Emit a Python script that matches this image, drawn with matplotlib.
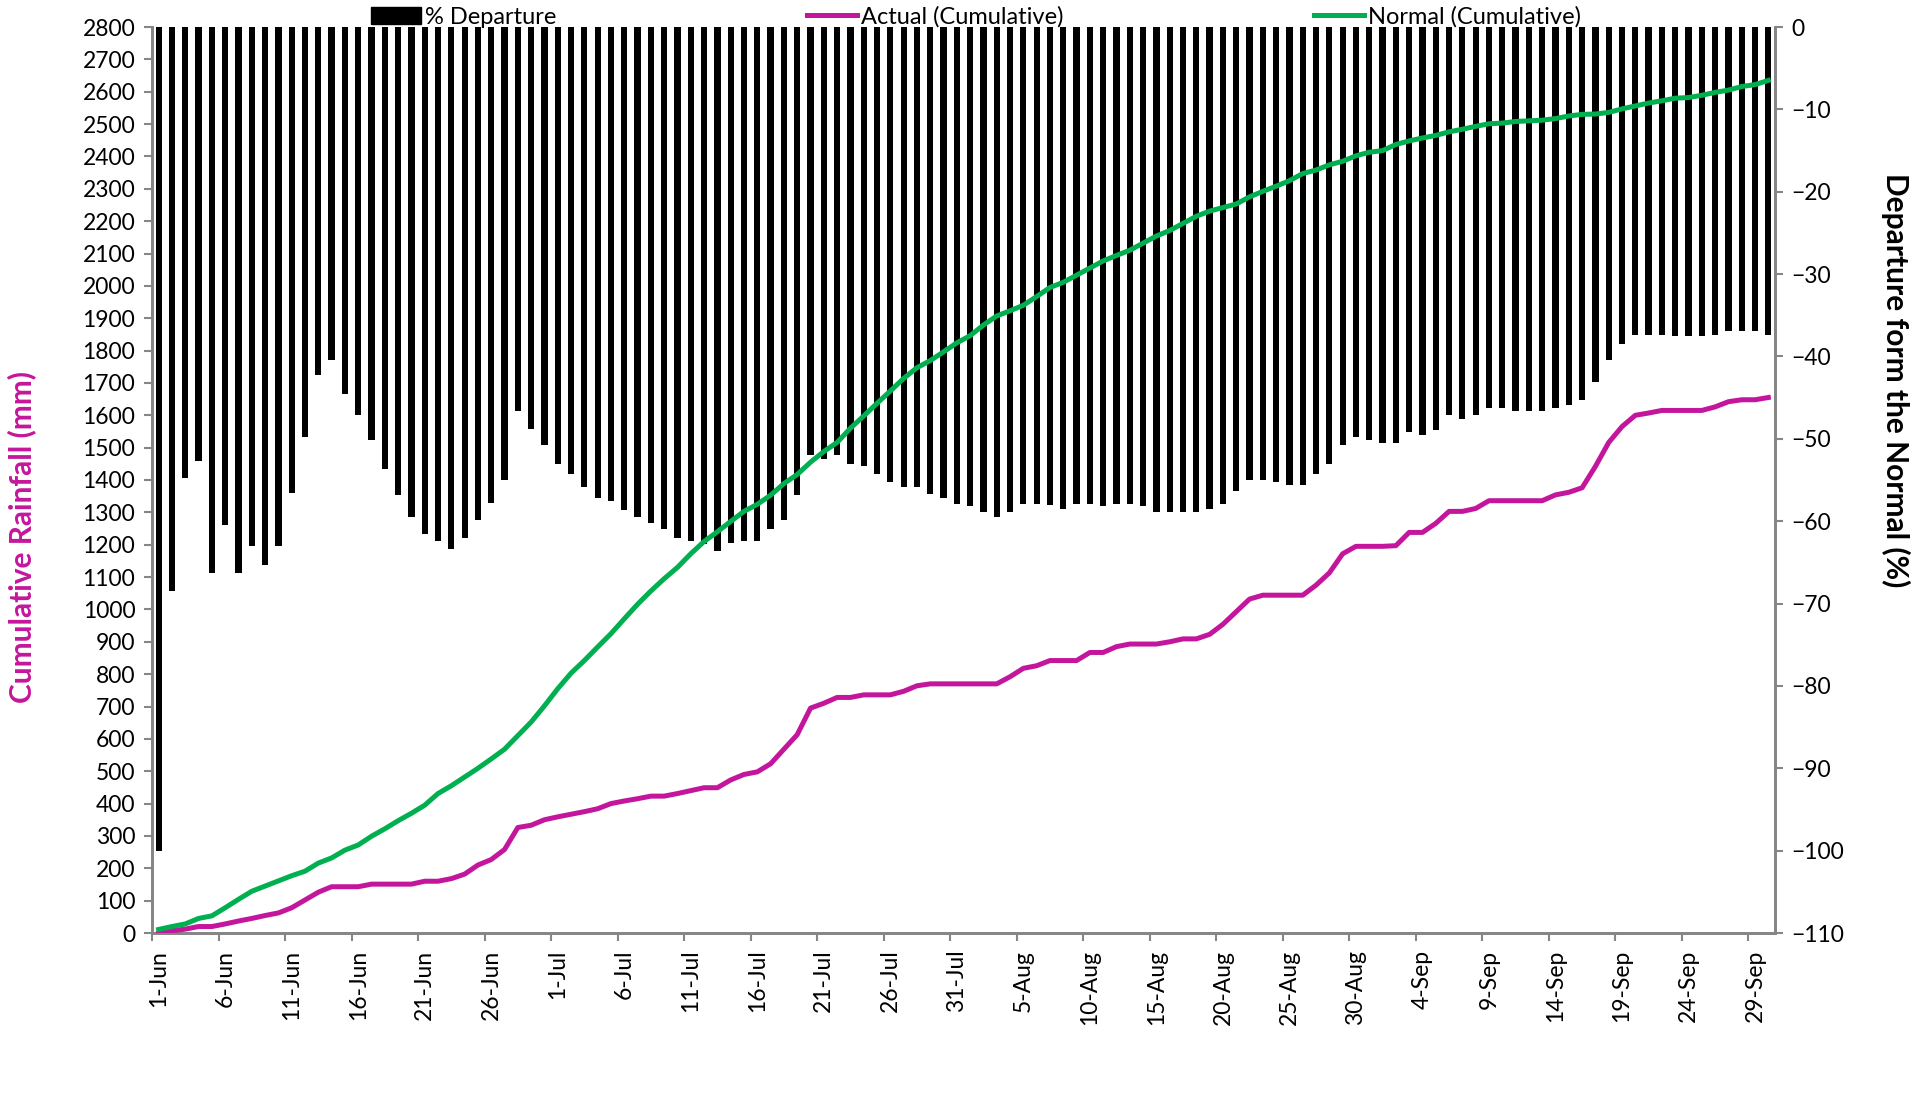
import matplotlib
matplotlib.use("Agg")
import matplotlib.pyplot as plt
import pandas as pd
import numpy as np
from matplotlib.lines import Line2D
from matplotlib.patches import Patch

plt.rcParams['font.family'] = ['Lato', 'DejaVu Sans']

dates = pd.date_range('2023-06-01', '2023-09-30', freq='D')
date_labels = [f"{d.day}-{d.strftime('%b')}" for d in dates]

departure = [
    -100, -68.5, -54.7, -52.7, -66.3, -60.5, -66.3, -63.0, -65.3, -63.0,
    -56.6, -49.8, -42.3, -40.4, -44.6, -47.1, -50.1, -53.7, -56.8, -59.5,
    -61.5, -62.4, -63.4, -62.1, -59.8, -57.8, -55.0, -46.6, -48.8, -50.8,
    -53.0, -54.3, -55.9, -57.2, -57.6, -58.6, -59.5, -60.2, -61.0, -62.0,
    -62.4, -62.8, -63.6, -62.7, -62.4, -62.4, -61.0, -59.8, -56.8, -52.0,
    -52.4, -52.0, -53.0, -53.3, -54.3, -55.3, -55.9, -55.9, -56.7, -57.2,
    -57.9, -58.2, -58.9, -59.5, -58.9, -57.9, -57.9, -58.0, -58.5, -57.9,
    -57.9, -58.2, -57.9, -57.9, -58.2, -58.9, -58.9, -58.9, -58.9, -58.5,
    -57.9, -56.3, -55.0, -55.0, -55.3, -55.6, -55.6, -54.3, -53.0, -50.8,
    -49.8, -50.1, -50.5, -50.5, -49.2, -49.5, -48.9, -47.1, -47.6, -47.1,
    -46.2, -46.2, -46.6, -46.6, -46.6, -46.2, -45.9, -45.3, -43.1, -40.4,
    -38.5, -37.4, -37.4, -37.4, -37.5, -37.5, -37.5, -37.4, -36.9, -36.9,
    -36.9, -37.4,
]

normal_cum = [
    11, 20, 28, 45, 53, 78, 104, 129, 145, 161,
    177, 191, 216, 232, 256, 272, 299, 322, 347, 370,
    395, 431, 455, 482, 509, 538, 568, 610, 652, 702,
    755, 803, 842, 884, 925, 971, 1016, 1057, 1095, 1130,
    1172, 1210, 1240, 1272, 1303, 1325, 1353, 1389, 1417, 1455,
    1488, 1516, 1560, 1598, 1637, 1675, 1714, 1747, 1769, 1796,
    1824, 1846, 1879, 1907, 1923, 1940, 1967, 1995, 2011, 2033,
    2055, 2077, 2094, 2110, 2132, 2154, 2171, 2193, 2215, 2231,
    2242, 2253, 2275, 2292, 2308, 2325, 2347, 2358, 2374, 2385,
    2402, 2413, 2418, 2437, 2448, 2457, 2465, 2476, 2484, 2493,
    2501, 2503, 2508, 2510, 2512, 2517, 2525, 2530, 2531, 2536,
    2547, 2556, 2565, 2572, 2580, 2582, 2589, 2598, 2605, 2616,
    2622, 2635,
]

actual_cum = [
    0, 7, 12, 20, 20, 28, 37, 45, 54, 62,
    78, 102, 126, 143, 143, 143, 151, 151, 151, 151,
    160, 160, 168, 182, 210, 227, 258, 326, 333, 350,
    359, 367, 375, 384, 400, 408, 415, 423, 423, 431,
    440, 449, 449, 473, 490, 498, 523, 568, 613, 695,
    710, 728, 728, 736, 736, 736, 747, 764, 770, 770,
    770, 770, 770, 770, 792, 818, 826, 842, 842, 842,
    867, 867, 885, 893, 893, 893, 900, 909, 909, 923,
    954, 993, 1032, 1044, 1044, 1044, 1044, 1075, 1113, 1172,
    1195, 1195, 1195, 1197, 1238, 1238, 1266, 1303, 1303, 1312,
    1336, 1336, 1336, 1336, 1336, 1354, 1362, 1376, 1442, 1516,
    1565, 1600, 1607, 1615, 1615, 1615, 1615, 1626, 1642, 1648,
    1648, 1655,
]

MAGENTA = '#C4169C'
GREEN = '#00B050'
GRAY = '#868686'
FS = 16.5
LW = 3.6

W, H = 1927, 1108
fig = plt.figure(figsize=(W / 100, H / 100), dpi=100)
left, right, top, bottom = 152 / W, 1775 / W, 27 / H, 933 / H
ax = fig.add_axes([left, 1 - bottom, right - left, bottom - top])
ax2 = ax.twinx()

x = np.arange(len(dates))

# bars on secondary axis (behind)
ax2.bar(x, departure, width=0.47, color='black', bottom=0, zorder=1)
ax2.set_ylim(-110, 0)
ax2.set_yticks(np.arange(-110, 1, 10))
ax2.tick_params(axis='y', labelsize=FS, colors='black', length=6, width=1.5, color=GRAY, pad=6)

# lines on primary axis (front)
ax.plot(x, actual_cum, color=MAGENTA, lw=LW, zorder=3, solid_joinstyle='round')
ax.plot(x, normal_cum, color=GREEN, lw=LW, zorder=3, solid_joinstyle='round')
ax.set_zorder(ax2.get_zorder() + 1)
ax.patch.set_visible(False)

ax.set_ylim(0, 2800)
ax.set_yticks(np.arange(0, 2801, 100))
ax.tick_params(axis='y', labelsize=FS, colors='black', length=6, width=1.5, color=GRAY, pad=6)
ax.set_xlim(-0.5, len(dates) - 0.5)

# x ticks: labels at category centers, tick marks at boundaries
major = np.arange(0, len(dates), 5)
ax.set_xticks(major)
ax.set_xticklabels([date_labels[i] for i in major], rotation=90, fontsize=FS)
ax.tick_params(axis='x', which='major', length=0, pad=12)
ax.set_xticks(major - 0.5, minor=True)
ax.tick_params(axis='x', which='minor', length=6, width=1.5, color=GRAY)
ax2.set_xlim(ax.get_xlim())

for a in (ax, ax2):
    a.spines['top'].set_visible(False)
    for s in ('left', 'right', 'bottom'):
        a.spines[s].set_color(GRAY)
        a.spines[s].set_linewidth(2)

fig.text(22 / W, 1 - 537 / H, 'Cumulative Rainfall (mm)', rotation=90, color=MAGENTA,
         fontsize=21.5, fontweight='bold', ha='center', va='center')
fig.text(1896 / W, 1 - 380 / H, 'Departure form the Normal (%)', rotation=-90, color='black',
         fontsize=21.5, fontweight='bold', ha='center', va='center')

handles = [Patch(facecolor='black', edgecolor='black'),
           Line2D([0], [0], color=MAGENTA, lw=LW),
           Line2D([0], [0], color=GREEN, lw=LW)]
labels = ['% Departure', 'Actual (Cumulative)', 'Normal (Cumulative)']
fig.legend(handles, labels, loc='center left', bbox_to_anchor=(371 / W, 1 - 17 / H), ncol=3,
           frameon=False, fontsize=17, handlelength=2.1, handletextpad=0.2,
           columnspacing=10.6, borderpad=0, borderaxespad=0)

fig.savefig('out.png', dpi=100)
